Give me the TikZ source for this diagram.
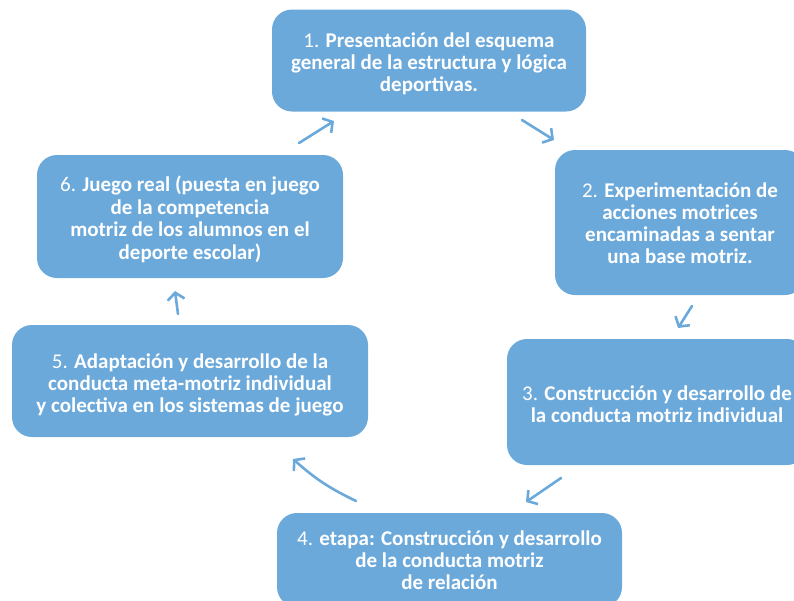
\documentclass[tikz,border=0pt]{standalone}
\usepackage{fontspec}
\setmainfont{Carlito}
\usetikzlibrary{arrows.meta}
\definecolor{boxblue}{HTML}{6CA9DB}
\tikzset{
  stage/.style={draw=none, fill=boxblue, rounded corners=20pt, inner sep=0pt},
  txt/.style={text=white, align=center, font=\fontsize{21}{22}\selectfont, inner sep=0pt},
  flow/.style={draw=boxblue, line width=2.6pt, -{Straight Barb[length=7pt,width=17pt]}, line cap=round}
}
\begin{document}
\begin{tikzpicture}[x=1pt,y=-1pt]
\useasboundingbox (0,0) rectangle (794,600);
\clip (0,0) rectangle (794,600);
\node[stage, minimum width=314pt, minimum height=102pt,
  label={[txt, yshift=-3pt]center:{1. \textbf{Presentación del esquema}\\\textbf{general de la estructura y lógica}\\\textbf{deportivas.}}}] (s1) at (429,60.5) {};
\node[stage, minimum width=250pt, minimum height=145pt,
  label={[txt, yshift=-1pt]center:{2. \textbf{Experimentación de}\\\textbf{acciones motrices}\\\textbf{encaminadas a sentar}\\\textbf{una base motriz.}}}] (s2) at (680,222.5) {};
\node[stage, minimum width=300pt, minimum height=126pt,
  label={[txt, yshift=-2.5pt]center:{3. \textbf{Construcción y desarrollo de}\\\textbf{la conducta motriz individual}}}] (s3) at (657,402) {};
\node[stage, minimum width=345pt, minimum height=94pt,
  label={[txt]center:{4. \textbf{etapa: Construcción y desarrollo}\\\textbf{de la conducta motriz}\\\textbf{de relación}}}] (s4) at (449.5,560) {};
\node[stage, minimum width=356pt, minimum height=112pt,
  label={[txt, yshift=-3.5pt]center:{5. \textbf{Adaptación y desarrollo de la}\\\textbf{conducta meta-motriz individual}\\\textbf{y colectiva en los sistemas de juego}}}] (s5) at (190,381) {};
\node[stage, minimum width=306pt, minimum height=123pt,
  label={[txt, yshift=-3pt, font=\fontsize{21}{22.5}\selectfont]center:{6. \textbf{Juego real (puesta en juego}\\\textbf{de la competencia}\\\textbf{motriz de los alumnos en el}\\\textbf{deporte escolar)}}}] (s6) at (190,216.5) {};
\coordinate (a12) at (522,120);
\coordinate (b12) at (554,140);
\coordinate (a23) at (692,306);
\coordinate (b23) at (678,328);
\coordinate (a34) at (561,478);
\coordinate (b34) at (526,502);
\coordinate (a45) at (356,501);
\coordinate (b45) at (293,459);
\coordinate (a56) at (178,314);
\coordinate (b56) at (175,291);
\coordinate (a61) at (299,143);
\coordinate (b61) at (334,121);
\draw[flow] (a12) -- (b12);
\draw[flow] (a23) -- (b23);
\draw[flow] (a34) -- (b34);
\draw[flow] (a45) to[bend left=8] (b45);
\draw[flow] (a56) -- (b56);
\draw[flow] (a61) -- (b61);
\end{tikzpicture}
\end{document}
